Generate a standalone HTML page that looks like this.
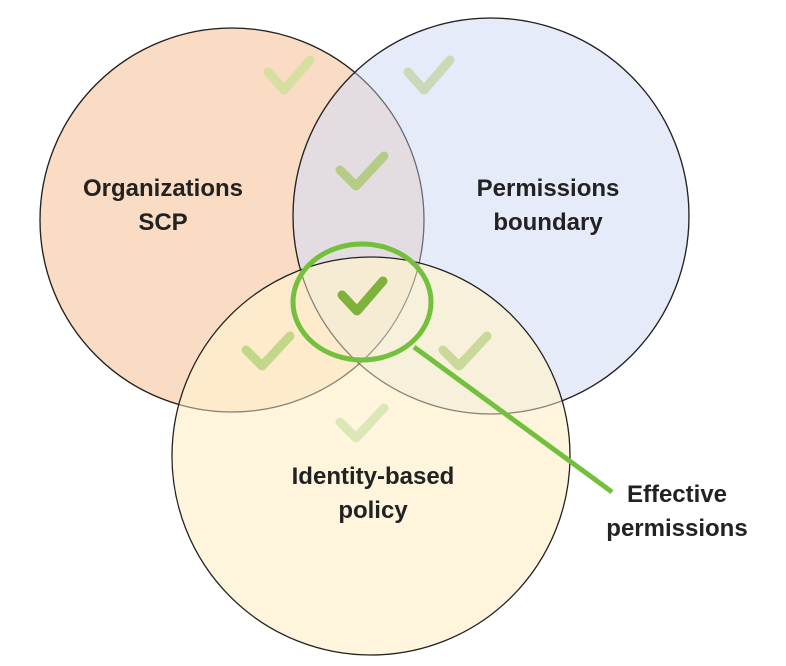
<!DOCTYPE html>
<html><head><style>body{margin:0;background:#fff}svg{display:block}</style></head><body>
<svg width="786" height="666" viewBox="0 0 786 666" xmlns="http://www.w3.org/2000/svg">
<circle cx="232" cy="220" r="192" fill="#f9dcc3" stroke="#222" stroke-width="1.3"/>
<circle cx="491" cy="216" r="198" fill="#d4def5" fill-opacity="0.6" stroke="#222" stroke-width="1.3"/>
<circle cx="371" cy="456" r="199" fill="#fdf1cf" fill-opacity="0.72" stroke="#222" stroke-width="1.3"/>
<circle cx="232" cy="220" r="192" fill="none" stroke="#222" stroke-opacity="0.35" stroke-width="1.2"/>
<circle cx="491" cy="216" r="198" fill="none" stroke="#222" stroke-opacity="0.35" stroke-width="1.2"/>
<g fill="none" stroke-linecap="round" stroke-linejoin="round" stroke-width="9">
<path d="M268 72 L284 90 L310 60" stroke="#d7dfa0"/>
<path d="M408 72 L424 90 L450 60" stroke="#cad9b6"/>
<path d="M340 170 L356 186 L384 156" stroke="#b5cc86"/>
<path d="M342 295 L357 311 L383 281" stroke="#7fb23a"/>
<path d="M246 350 L262 366 L290 336" stroke="#c3d78a"/>
<path d="M443 350 L459 366 L487 336" stroke="#c8d99a"/>
<path d="M340 422 L356 438 L384 408" stroke="#dbe8b6"/>
</g>
<ellipse cx="362" cy="302" rx="69" ry="58" fill="none" stroke="#72c03c" stroke-width="5"/>
<line x1="414" y1="347" x2="612" y2="492" stroke="#72c03c" stroke-width="5"/>
<g font-family="Liberation Sans, sans-serif" font-size="24" font-weight="bold" fill="#222" text-anchor="middle">
<text x="163" y="196">Organizations</text><text x="163" y="230">SCP</text>
<text x="548" y="196">Permissions</text><text x="548" y="230">boundary</text>
<text x="373" y="484">Identity-based</text><text x="373" y="518">policy</text>
<text x="677" y="502">Effective</text><text x="677" y="536">permissions</text>
</g>
</svg>
</body></html>
